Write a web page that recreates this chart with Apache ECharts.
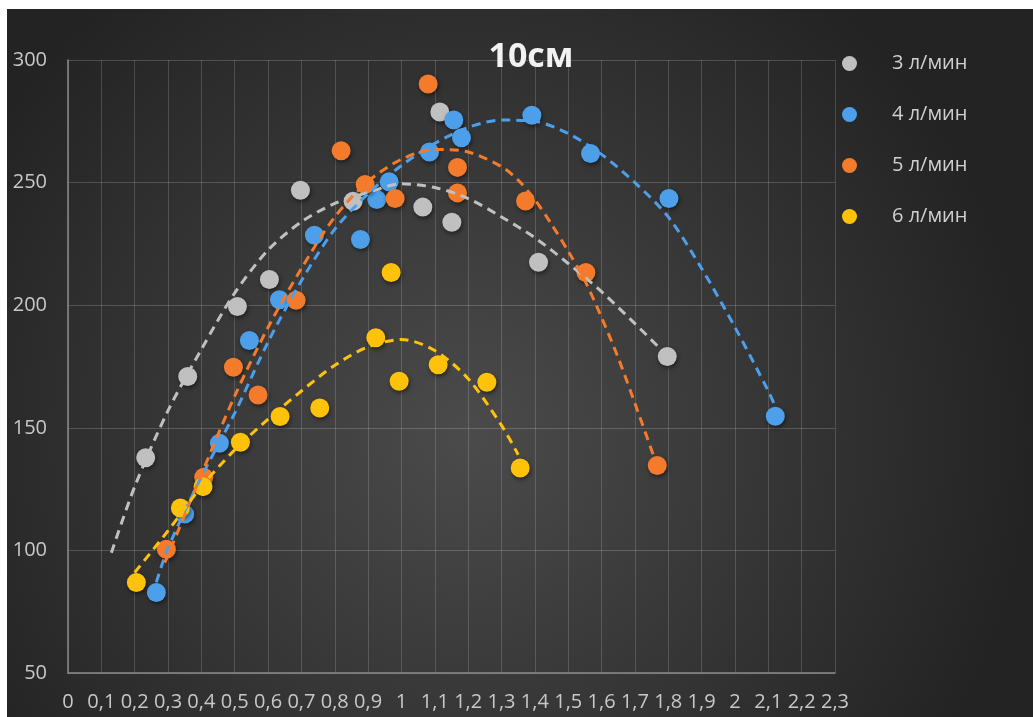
<!DOCTYPE html>
<html>
<head>
<meta charset="utf-8">
<script src="https://cdn.jsdelivr.net/npm/echarts@6/dist/echarts.min.js"></script>
<style>
html,body{margin:0;padding:0;background:#ffffff;}
#chart{position:absolute;left:7px;top:9px;width:1026px;height:708px;}
</style>
</head>
<body>
<div id="chart"></div>
<script>
// ---- data ----
const seriesNames = ['3 л/мин', '4 л/мин', '5 л/мин', '6 л/мин'];
const titleText = '10см';

const x3 = [0.233, 0.359, 0.508, 0.604, 0.697, 0.855, 1.064, 1.115, 1.151, 1.411, 1.797];
const y3 = [137.8, 170.9, 199.5, 210.5, 246.9, 242.4, 240.0, 278.8, 233.8, 217.5, 179.1];

const x4 = [0.265, 0.350, 0.454, 0.544, 0.634, 0.739, 0.877, 0.926, 0.963, 1.084, 1.157, 1.180, 1.391, 1.567, 1.802, 2.121];
const y4 = [82.8, 114.8, 143.7, 185.6, 202.2, 228.5, 226.8, 243.1, 250.3, 262.5, 275.5, 268.3, 277.5, 261.9, 243.5, 154.7];

const x5 = [0.295, 0.407, 0.496, 0.570, 0.684, 0.819, 0.891, 0.981, 1.080, 1.168, 1.168, 1.372, 1.553, 1.767];
const y5 = [100.5, 129.8, 174.7, 163.4, 202.0, 263.0, 249.2, 243.5, 290.2, 256.2, 245.8, 242.5, 213.3, 134.6];

const x6 = [0.205, 0.337, 0.405, 0.517, 0.636, 0.755, 0.923, 0.969, 0.993, 1.110, 1.256, 1.356];
const y6 = [86.9, 117.3, 126.0, 144.1, 154.6, 158.1, 186.7, 213.3, 169.0, 175.7, 168.6, 133.6];

// trendlines
const t3x = [0.13, 0.2, 0.3, 0.4, 0.5, 0.6, 0.7, 0.8, 0.9, 1.0, 1.1, 1.2, 1.3, 1.4, 1.5, 1.6, 1.7, 1.8];
const t3y = [99, 126, 157, 182, 205, 222.5, 234, 241.5, 246, 249.5, 248, 243.5, 236, 227.5, 217, 205.5, 192.5, 179];

const t4x = [0.265, 0.3, 0.4, 0.5, 0.6, 0.7, 0.8, 0.9, 1.0, 1.1, 1.2, 1.3, 1.4, 1.5, 1.6, 1.7, 1.8, 1.9, 2.0, 2.1, 2.12];
const t4y = [87, 101, 130, 156, 185, 210, 231, 245.5, 257, 266, 272.5, 275.5, 275, 270, 261.5, 250, 236, 215, 191, 165, 159];

const t5x = [0.29, 0.3, 0.4, 0.5, 0.6, 0.7, 0.8, 0.9, 1.0, 1.1, 1.2, 1.3, 1.35, 1.4, 1.45, 1.5, 1.55, 1.6, 1.65, 1.7, 1.76];
const t5y = [95, 98, 131, 163, 191, 215, 236, 250.5, 259.5, 263.5, 262.5, 256.5, 251, 243, 233, 222, 210, 195, 178.5, 160, 137];

const t6x = [0.2, 0.3, 0.4, 0.5, 0.6, 0.7, 0.8, 0.9, 1.0, 1.1, 1.2, 1.3, 1.35];
const t6y = [91, 108, 126, 141, 153.5, 165, 175.5, 183, 186, 181.5, 170, 151, 139];

const colors = ['#c0c0c0', '#4c9fe8', '#f47a2c', '#ffc20a'];

// ---- build ----
function pairs(xs, ys) { return xs.map((x, i) => [x, ys[i]]); }
const pts = [pairs(x3, y3), pairs(x4, y4), pairs(x5, y5), pairs(x6, y6)];
const trends = [pairs(t3x, t3y), pairs(t4x, t4y), pairs(t5x, t5y), pairs(t6x, t6y)];

const chart = echarts.init(document.getElementById('chart'), null, {renderer: 'canvas'});

const series = [];
pts.forEach((d, i) => {
  series.push({
    name: seriesNames[i], type: 'scatter', data: d, symbol: 'circle', symbolSize: 19, z: 2,
    itemStyle: {color: colors[i], opacity: 1, shadowBlur: 4, shadowColor: 'rgba(0,0,0,0.5)', shadowOffsetX: 1, shadowOffsetY: 2}
  });
});
trends.forEach((d, i) => {
  series.push({
    name: seriesNames[i] + ' тренд', type: 'line', data: d, smooth: 0.3, symbol: 'none', z: 3,
    silent: true,
    lineStyle: {color: colors[i], width: 3, type: [9, 6]}
  });
});

chart.setOption({
  animation: false,
  backgroundColor: {
    type: 'radial', x: 0.45, y: 0.6, r: 0.8,
    colorStops: [{offset: 0, color: '#4b4b4b'}, {offset: 1, color: '#232323'}]
  },
  graphic: [{
    type: 'text', x: 524, y: 48, z: 10,
    style: {text: titleText, fill: '#f2f2f2', font: 'bold 34px "Open Sans"', textAlign: 'center', textVerticalAlign: 'middle'}
  }],
  legend: {
    data: seriesNames, orient: 'vertical', left: 830, top: 39,
    icon: 'circle', itemWidth: 15, itemHeight: 15, itemGap: 30,
    textStyle: {color: '#d0d0d0', fontSize: 20, fontFamily: 'Open Sans', padding: [0, 0, 0, 30], lineHeight: 21}
  },
  grid: {left: 61, right: 198, top: 51, bottom: 44, containLabel: false},
  xAxis: {
    type: 'value', min: 0, max: 2.3, interval: 0.1,
    axisLine: {show: true, onZero: false, lineStyle: {color: '#8a8a8a', width: 1.5}},
    axisTick: {show: false},
    splitLine: {show: true, lineStyle: {color: 'rgba(255,255,255,0.16)', width: 1}},
    axisLabel: {
      color: '#c8c8c8', fontSize: 20, fontFamily: 'Open Sans', margin: 19, interval: 0, hideOverlap: false,
      formatter: v => String(Math.round(v * 10) / 10).replace('.', ',')
    }
  },
  yAxis: {
    type: 'value', min: 50, max: 300, interval: 50,
    axisLine: {show: true, onZero: false, lineStyle: {color: '#8a8a8a', width: 1.5}},
    axisTick: {show: false},
    splitLine: {show: true, lineStyle: {color: 'rgba(255,255,255,0.18)', width: 1}},
    axisLabel: {color: '#c8c8c8', fontSize: 20, fontFamily: 'Open Sans', margin: 21}
  },
  series: series
});
</script>
</body>
</html>
